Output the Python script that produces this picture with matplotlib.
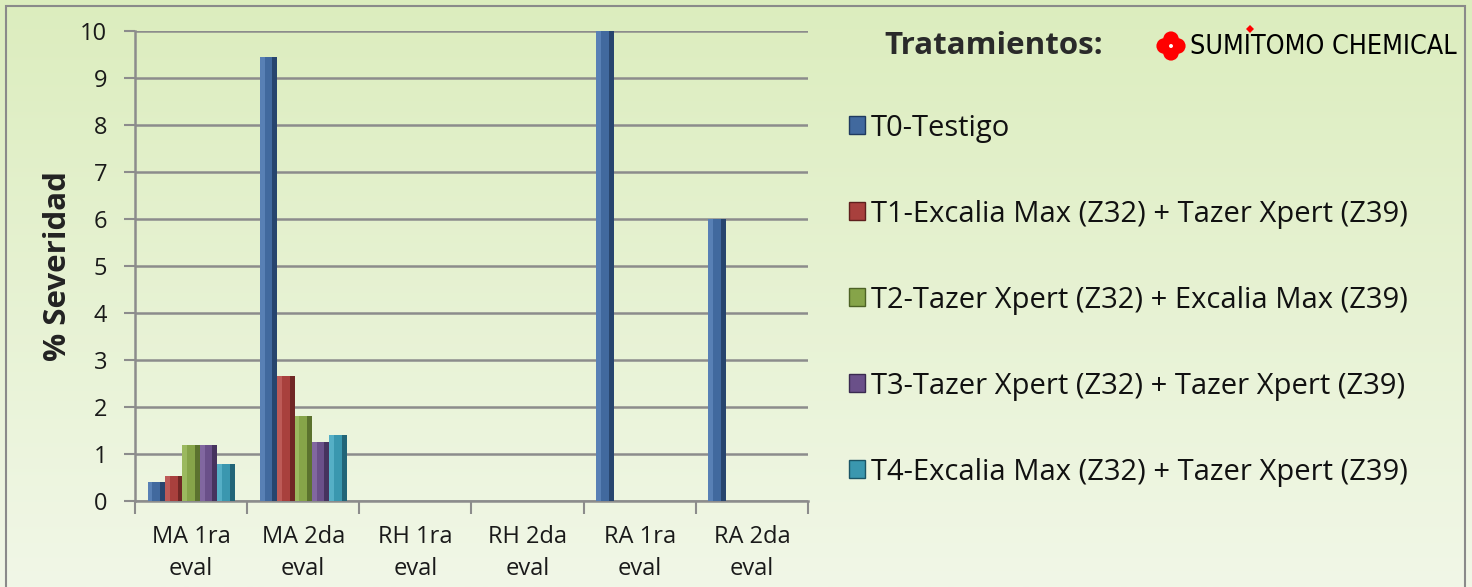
import numpy as np
import matplotlib
matplotlib.use("Agg")
import matplotlib.pyplot as plt
from matplotlib.patches import Patch, Rectangle, Circle, Polygon

plt.rcParams['font.family'] = ['Open Sans', 'DejaVu Sans']

categories = ["MA 1ra\neval", "MA 2da\neval", "RH 1ra\neval", "RH 2da\neval", "RA 1ra\neval", "RA 2da\neval"]
series_names = ["T0-Testigo",
                "T1-Excalia Max (Z32) + Tazer Xpert (Z39)",
                "T2-Tazer Xpert (Z32) + Excalia Max (Z39)",
                "T3-Tazer Xpert (Z32) + Tazer Xpert (Z39)",
                "T4-Excalia Max (Z32) + Tazer Xpert (Z39)"]
T0 = [0.41, 9.45, 0, 0, 10.0, 6.0]
T1 = [0.54, 2.66, 0, 0, 0, 0]
T2 = [1.19, 1.81, 0, 0, 0, 0]
T3 = [1.19, 1.26, 0, 0, 0, 0]
T4 = [0.78, 1.40, 0, 0, 0, 0]
series = [T0, T1, T2, T3, T4]
yticks = list(range(0, 11))
ylabel = "% Severidad"
legend_title = "Tratamientos:"

base_colors = ["#41699e", "#a8403d", "#86a449", "#6a5089", "#3a97af"]
light_colors = ["#6c93c8", "#d0716e", "#aecb72", "#947bb4", "#6cc3da"]
dark_colors = ["#1f3a5f", "#5e1f1d", "#4d6225", "#3a2a50", "#1b5566"]

W, H = 1472, 587
fig = plt.figure(figsize=(W / 100, H / 100), dpi=100)

# background gradient
bg = fig.add_axes([0, 0, 1, 1], zorder=-10)
grad = np.linspace(0, 1, 256).reshape(-1, 1)
c_top = np.array([0xdc, 0xed, 0xbe]) / 255
c_bot = np.array([0xf1, 0xf7, 0xe7]) / 255
img = c_top[None, None, :] * (1 - grad[:, :, None]) + c_bot[None, None, :] * grad[:, :, None]
bg.imshow(img, aspect='auto', extent=[0, 1, 0, 1], origin='upper')
bg.set_xlim(0, 1); bg.set_ylim(0, 1)
bg.axis('off')
bg.add_patch(Rectangle((6 / W, -0.05), (1465 - 6) / W, 1.05 - 6 / H, fill=False,
                       edgecolor="#8a8a8a", lw=1.5, transform=bg.transAxes))

ax = fig.add_axes([135 / W, 1 - 501 / H, (808 - 135) / W, (501 - 31) / H])
ax.set_facecolor("none")

x = np.arange(len(categories))
bw = 0.155
for i, vals in enumerate(series):
    pos = x + (i - 2) * bw
    vals = np.array(vals)
    ax.bar(pos, vals, width=bw, color=base_colors[i], zorder=3, linewidth=0)
    ax.bar(pos - bw * 0.36, vals, width=bw * 0.28, color=light_colors[i], zorder=4, linewidth=0, alpha=0.55)
    ax.bar(pos + bw * 0.36, vals, width=bw * 0.28, color=dark_colors[i], zorder=4, linewidth=0, alpha=0.75)

ax.set_xlim(-0.5, len(categories) - 0.5)
ax.set_ylim(0, 10)
ax.set_yticks(yticks)
ax.set_yticklabels([str(t) for t in yticks], fontsize=17, color="#1a1a1a")
ax.yaxis.grid(True, color="#8c8c8c", lw=1.8, zorder=1)
ax.set_axisbelow(True)
ax.tick_params(axis='y', length=8, width=1.5, color="#8c8c8c", pad=12)

ax.set_xticks(x)
ax.set_xticklabels(categories, fontsize=17, color="#1a1a1a", linespacing=1.45)
ax.set_xticks(np.arange(-0.5, len(categories)), minor=True)
ax.tick_params(axis='x', which='major', length=0, pad=17)
ax.tick_params(axis='x', which='minor', length=9, width=1.5, color="#8c8c8c")

for s in ['top', 'right']:
    ax.spines[s].set_visible(False)
for s in ['left', 'bottom']:
    ax.spines[s].set_color("#8c8c8c")
    ax.spines[s].set_linewidth(1.8)

ax.set_ylabel(ylabel, fontsize=22.5, fontweight='bold', color="#222222", labelpad=5)

handles = [Patch(facecolor=base_colors[i], edgecolor=dark_colors[i], lw=1) for i in range(5)]
leg = fig.legend(handles, series_names, loc='upper left', bbox_to_anchor=(837 / W, 1 - 102 / H),
                 frameon=False, fontsize=21, handlelength=0.57, handleheight=0.57,
                 handletextpad=0.2, labelspacing=1.955, borderaxespad=0)
for t in leg.get_texts():
    t.set_color("#111111")

fig.text(884 / W, 1 - 46 / H, legend_title, fontsize=22.5, fontweight='bold', color="#2a2a2a",
         va='center', ha='left')

# logo
lax = fig.add_axes([1154 / W, 1 - 62 / H, 34 / W, 32 / H])
lax.set_xlim(-1.2, 1.2); lax.set_ylim(-1.13, 1.13)
lax.set_aspect('equal'); lax.axis('off')
for dx, dy in [(0.48, 0), (-0.48, 0), (0, 0.48), (0, -0.48)]:
    lax.add_patch(Circle((dx, dy), 0.55, color="#ff0000", lw=0))
lax.add_patch(Circle((0, 0), 0.14, color="white", lw=0))
fig.text(1190 / W, 1 - 47 / H, "SUMITOMO CHEMICAL", fontsize=19.3,
         family='DejaVu Sans', fontstretch='condensed', color="black", va='center', ha='left')
dax = fig.add_axes([0, 0, 1, 1], zorder=-5)
dax.set_xlim(0, W); dax.set_ylim(H, 0); dax.axis('off')
dax.add_patch(Polygon([(1250, 25), (1254, 29), (1250, 33), (1246, 29)], color="#ff0000", lw=0))

fig.savefig("out.png", dpi=100)
